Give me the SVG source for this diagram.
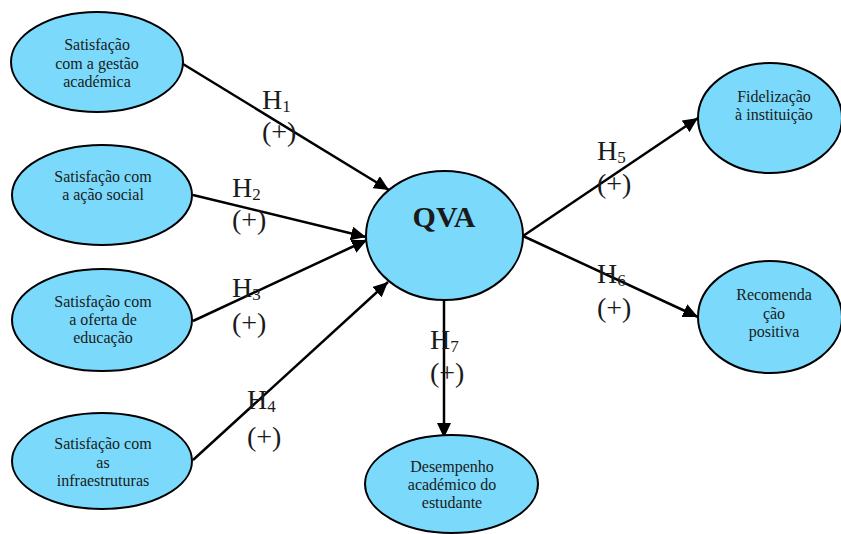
<svg xmlns="http://www.w3.org/2000/svg" width="841" height="534" viewBox="0 0 841 534">
<style>
.node{fill:#7BDAFC;stroke:#000;stroke-width:2}
.nt{font-family:"Liberation Serif","Times New Roman",serif;font-size:16px;fill:#1a1a1a;text-anchor:middle}
.qva{font-family:"Liberation Serif","Times New Roman",serif;font-size:30px;font-weight:bold;fill:#1a1a1a;text-anchor:middle}
.lab{font-family:"Liberation Serif","Times New Roman",serif;font-size:28px;fill:#1a1a1a}
.sub{font-size:17px}
.edge{stroke:#000;stroke-width:2.5;fill:none;marker-end:url(#arr)}
</style>
<defs>
<marker id="arr" markerUnits="userSpaceOnUse" markerWidth="16" markerHeight="14" refX="15" refY="7" orient="auto">
<path d="M0,0 L15,7 L0,14 z" fill="#000"/>
</marker>
</defs>
<rect width="841" height="534" fill="#fff"/>
<g id="connectors">
<line class="edge" x1="183" y1="64" x2="389" y2="190"/>
<line class="edge" x1="193" y1="195" x2="366" y2="237"/>
<line class="edge" x1="193" y1="321" x2="367" y2="240"/>
<line class="edge" x1="193" y1="460" x2="388" y2="282"/>
<line class="edge" x1="523" y1="236" x2="698" y2="118"/>
<line class="edge" x1="523" y1="236" x2="698" y2="317"/>
<line class="edge" x1="444" y1="300" x2="444" y2="438"/>
</g>
<g id="n1"><ellipse class="node" cx="97" cy="62" rx="86" ry="50"/>
<text class="nt" x="97" y="50">Satisfação</text><text class="nt" x="97" y="68.5">com a gestão</text><text class="nt" x="97" y="87">académica</text></g>
<g id="n2"><ellipse class="node" cx="102" cy="195" rx="90" ry="50"/>
<text class="nt" x="103" y="182">Satisfação com</text><text class="nt" x="103" y="200">a ação social</text></g>
<g id="n3"><ellipse class="node" cx="102" cy="320" rx="90" ry="51"/>
<text class="nt" x="103" y="307">Satisfação com</text><text class="nt" x="103" y="325">a oferta de</text><text class="nt" x="103" y="343">educação</text></g>
<g id="n4"><ellipse class="node" cx="102" cy="461" rx="90" ry="48"/>
<text class="nt" x="103" y="449">Satisfação com</text><text class="nt" x="103" y="467.5">as</text><text class="nt" x="103" y="486">infraestruturas</text></g>
<g id="qva"><ellipse class="node" cx="444.5" cy="235.5" rx="78.5" ry="64.5"/>
<text class="qva" x="444" y="227">QVA</text></g>
<g id="n5"><ellipse class="node" cx="770" cy="118" rx="72" ry="55"/>
<text class="nt" x="774" y="102">Fidelização</text><text class="nt" x="774" y="120">à instituição</text></g>
<g id="n6"><ellipse class="node" cx="770" cy="317" rx="72" ry="56"/>
<text class="nt" x="774" y="300">Recomenda</text><text class="nt" x="774" y="318.5">ção</text><text class="nt" x="774" y="337">positiva</text></g>
<g id="n7"><ellipse class="node" cx="451.5" cy="484" rx="86.5" ry="49"/>
<text class="nt" x="452" y="472">Desempenho</text><text class="nt" x="452" y="490">académico do</text><text class="nt" x="452" y="508">estudante</text></g>
<g id="labels">
<text class="lab" x="262" y="109">H<tspan class="sub" dy="3">1</tspan></text><text class="lab" x="262" y="141">(+)</text>
<text class="lab" x="232" y="197">H<tspan class="sub" dy="3">2</tspan></text><text class="lab" x="232" y="229">(+)</text>
<text class="lab" x="232" y="297">H<tspan class="sub" dy="3">3</tspan></text><text class="lab" x="232" y="332">(+)</text>
<text class="lab" x="247" y="409">H<tspan class="sub" dy="3">4</tspan></text><text class="lab" x="247" y="446">(+)</text>
<text class="lab" x="597" y="160">H<tspan class="sub" dy="3">5</tspan></text><text class="lab" x="597" y="193">(+)</text>
<text class="lab" x="597" y="283">H<tspan class="sub" dy="3">6</tspan></text><text class="lab" x="597" y="317">(+)</text>
<text class="lab" x="430" y="349">H<tspan class="sub" dy="3">7</tspan></text><text class="lab" x="430" y="382">(+)</text>
</g>
</svg>
